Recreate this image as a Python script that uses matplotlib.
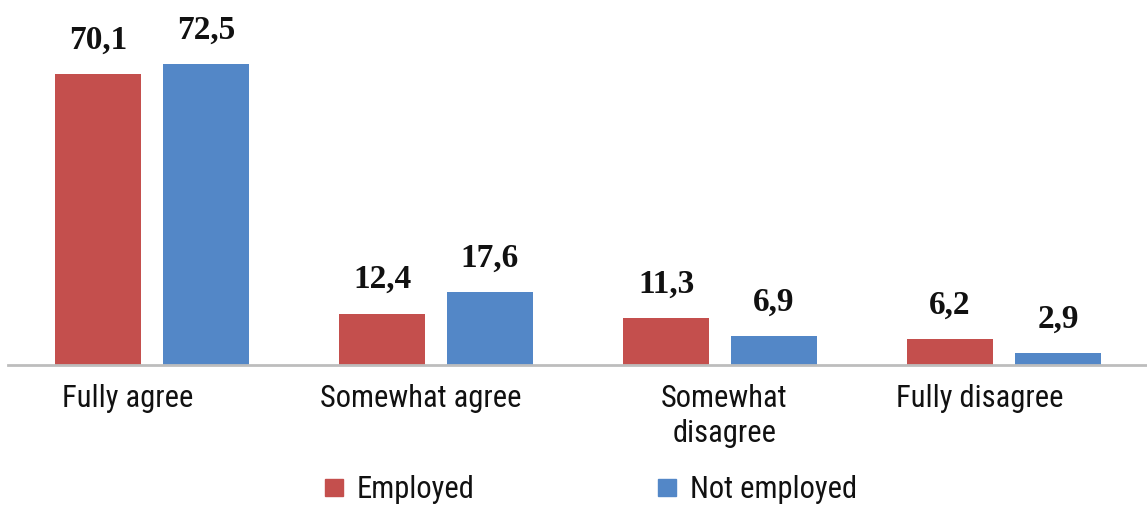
import matplotlib
matplotlib.use("Agg")
import matplotlib.pyplot as plt
from matplotlib import font_manager as fm

categories = ["Fully agree", "Somewhat agree", "Somewhat\ndisagree", "Fully disagree"]
series_names = ["Employed", "Not employed"]
employed = [70.1, 12.4, 11.3, 6.2]
not_employed = [72.5, 17.6, 6.9, 2.9]
value_labels_emp = ["70,1", "12,4", "11,3", "6,2"]
value_labels_not = ["72,5", "17,6", "6,9", "2,9"]

colors = ["#C44F4D", "#5387C7"]

names = {f.name for f in fm.fontManager.ttflist}
cond = None
for cand in ["Roboto Condensed", "Archivo Narrow", "Barlow Condensed", "Asap Condensed"]:
    if cand in names:
        cond = cand
        break
sans = [cond, "DejaVu Sans"] if cond else ["Liberation Sans", "DejaVu Sans"]
serif = ["Liberation Serif", "DejaVu Serif"]

W, H = 1147, 506
fig = plt.figure(figsize=(W / 100, H / 100), dpi=100)
ax = fig.add_axes([10 / W, 1 - 366 / H, 1136 / W, 366 / H])
ax.set_xlim(-0.5, 3.5)
ax.set_ylim(0, 88.2)

bw = 0.306
gap = 0.074
off = (bw + gap) / 2
x = list(range(len(categories)))
b1 = ax.bar([i - off for i in x], employed, width=bw, color=colors[0], label=series_names[0])
b2 = ax.bar([i + off for i in x], not_employed, width=bw, color=colors[1], label=series_names[1])

for rects, labs in ((b1, value_labels_emp), (b2, value_labels_not)):
    for r, lab in zip(rects, labs):
        ax.annotate(lab, (r.get_x() + r.get_width() / 2, r.get_height()),
                    xytext=(0, 14), textcoords="offset points", ha="center", va="bottom",
                    fontsize=24, fontweight="bold", family=serif, color="#111111")

for s in ax.spines.values():
    s.set_visible(False)
ax.set_xticks([])
ax.set_yticks([])
ax.axhline(0, color="#BDBDBD", lw=2, xmin=-0.002, xmax=1.0, clip_on=False)

# category labels
label_x = [-0.085, -0.055, 0.015, -0.085]
for i, (c, dx) in enumerate(zip(categories, label_x)):
    ax.text(i + dx, -4.3, c, ha="center", va="top", fontsize=22, family=sans,
            fontweight="normal", color="#111111", linespacing=1.25)

# legend
leg_items = [(325 / W, colors[0], series_names[0]), (658 / W, colors[1], series_names[1])]
for lx, col, name in leg_items:
    fig.patches.append(plt.Rectangle((lx, 1 - 497 / H), 18 / W, 17 / H, transform=fig.transFigure,
                                     color=col, figure=fig))
    fig.text(lx + 32 / W, 1 - 490 / H, name, ha="left", va="center", fontsize=22,
             family=sans, fontweight="normal", color="#111111")

fig.savefig("out.png", dpi=100, facecolor="white")
